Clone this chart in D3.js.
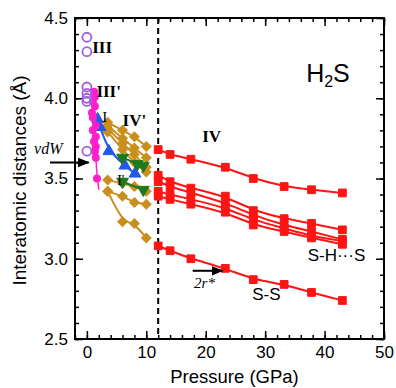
<!DOCTYPE html>
<html>
<head>
<meta charset="utf-8">
<script src="https://cdn.jsdelivr.net/npm/d3@7"></script>
<style>
  body { margin: 0; background: #fff; }
  text { font-family: "Liberation Sans", Arial, sans-serif; }
  .serif { font-family: "Liberation Serif", "Times New Roman", serif; }
</style>
</head>
<body>
<div id="chart"></div>
<script>
// phase IV (red squares), pressures in GPa
const pressIV = [12, 14, 17.5, 23.3, 28, 33.2, 37.8, 43];
const ivTop = [3.68, 3.65, 3.62, 3.57, 3.50, 3.45, 3.43, 3.41];
const ivA   = [3.52, 3.48, 3.44, 3.39, 3.30, 3.25, 3.22, 3.18];
const ivB   = [3.48, 3.45, 3.41, 3.35, 3.27, 3.21, 3.17, 3.12];
const ivC   = [3.42, 3.40, 3.37, 3.32, 3.24, 3.19, 3.14, 3.11];
const ivD   = [3.39, 3.37, 3.34, 3.29, 3.21, 3.17, 3.13, 3.09];
const ivSS  = [3.08, 3.05, 3.00, 2.94, 2.87, 2.84, 2.79, 2.74];

// phase IV' (gold diamonds)
const pressIVp = [3.5, 6, 8, 10];
const gold1 = [3.85, 3.80, 3.76, 3.70];
const gold2 = [3.83, 3.75, 3.69, 3.63];
const gold3 = [3.81, 3.72, 3.65, 3.57];
const gold4 = [3.79, 3.68, 3.60, 3.54];
const gold5 = [3.49, 3.47, 3.45, 3.42];
const gold6 = [3.42, 3.39, 3.35, 3.34];
const gold7 = [3.42, 3.23, 3.22, 3.13];

// phase I (blue up-triangles)
const pressI = [1.8, 2.2, 3.7, 6.4, 8.1];
const distI  = [3.87, 3.82, 3.67, 3.58, 3.53];

// phase I' (green down-triangles)
const pressIp = [6.0, 8.5, 9.5];
const distIpUp = [3.63, 3.59, 3.58];
const pressIpLow = [6.0, 9.5];
const distIpLow = [3.48, 3.43];

// magenta dots and their fit line
const magP = [1.2, 1.35, 1.0, 1.35, 0.85, 1.0, 1.5, 1.0, 1.5, 1.2, 1.5, 1.35, 1.5, 1.7];
const magD = [4.04, 4.01, 3.98, 3.95, 3.91, 3.88, 3.83, 3.80, 3.76, 3.73, 3.70, 3.67, 3.63, 3.50];
const magFitP = [1.1, 1.3, 1.4, 1.6, 2.0];
const magFitD = [4.06, 3.90, 3.72, 3.55, 3.43];

// phase III / III' (open violet circles)
const violetP = [0, 0, 0, 0, 0, 0, 0];
const violetD = [4.38, 4.29, 4.07, 4.03, 4.00, 3.98, 3.67];

const W = 396, H = 388;
const margin = {top: 18, right: 12, bottom: 49, left: 75};
const width = W - margin.left - margin.right;
const height = H - margin.top - margin.bottom;

const svg = d3.select("#chart").append("svg")
  .attr("width", W).attr("height", H)
  .append("g")
  .attr("transform", `translate(${margin.left},${margin.top})`);

const x = d3.scaleLinear().domain([-2, 50]).range([0, width]);
const y = d3.scaleLinear().domain([2.5, 4.5]).range([height, 0]);

const zip = (a, b) => a.map((v, i) => [v, b[i]]);

// axes: major + minor ticks, all pointing inward
function axes(g, axisFn, scale, majors, minors, withLabels, fmt) {
  g.call(axisFn(scale).tickValues(minors).tickSizeInner(-4).tickSizeOuter(0).tickFormat(""));
  const m = g.append("g").call(axisFn(scale).tickValues(majors).tickSizeInner(-8).tickSizeOuter(0)
    .tickPadding(7).tickFormat(withLabels ? fmt : ""));
  g.selectAll(".domain").remove();
  g.selectAll("line").attr("stroke", "#000").attr("stroke-width", 1.5);
  m.selectAll("text").attr("font-size", 17).attr("fill", "#000")
    .style("font-family", "'Liberation Sans', Arial, sans-serif");
}
const xMaj = [0, 10, 20, 30, 40, 50];
const xMin = d3.range(-2, 50.01, 2);
const yMaj = [2.5, 3.0, 3.5, 4.0, 4.5];
const yMin = d3.range(25, 45.1, 1).map(v => v / 10);

axes(svg.append("g").attr("transform", `translate(0,${height})`), d3.axisBottom, x, xMaj, xMin, true, d3.format("d"));
axes(svg.append("g"), d3.axisTop, x, xMaj, xMin, false);
axes(svg.append("g"), d3.axisLeft, y, yMaj, yMin, true, d3.format(".1f"));
axes(svg.append("g").attr("transform", `translate(${width},0)`), d3.axisRight, y, yMaj, yMin, false);

svg.append("rect").attr("width", width).attr("height", height)
  .attr("fill", "none").attr("stroke", "#000").attr("stroke-width", 2);

// dashed line at 12 GPa
svg.append("line")
  .attr("x1", x(12)).attr("x2", x(12)).attr("y1", 0).attr("y2", height)
  .attr("stroke", "#000").attr("stroke-width", 2).attr("stroke-dasharray", "6,4");

const line = d3.line().x(d => x(d[0])).y(d => y(d[1])).curve(d3.curveBasis);

function series(ps, ds, color, symbol, size, rotate, filled) {
  const pts = zip(ps, ds);
  svg.append("path").datum(pts).attr("d", line)
    .attr("fill", "none").attr("stroke", color).attr("stroke-width", 2);
  svg.selectAll(null).data(pts).enter().append("path")
    .attr("d", d3.symbol().type(symbol).size(size))
    .attr("transform", d => `translate(${x(d[0])},${y(d[1])}) rotate(${rotate})`)
    .attr("fill", filled ? color : "none").attr("stroke", color);
}

const red = "#ff1414", gold = "#c98f1c", blue = "#2458e8", green = "#1d7a1d",
      magenta = "#ff1ecb", violet = "#9d5fe0";

[gold1, gold2, gold3, gold4, gold5, gold6, gold7].forEach(g =>
  series(pressIVp, g, gold, d3.symbolSquare, 46, 45, true));
[ivTop, ivA, ivB, ivC, ivD, ivSS].forEach(s =>
  series(pressIV, s, red, d3.symbolSquare, 60, 0, true));
series(pressI, distI, blue, d3.symbolTriangle, 60, 0, true);
series(pressIp, distIpUp, green, d3.symbolTriangle, 60, 180, true);
series(pressIpLow, distIpLow, green, d3.symbolTriangle, 60, 180, true);

// magenta
svg.append("path").datum(zip(magFitP, magFitD)).attr("d", line)
  .attr("fill", "none").attr("stroke", magenta).attr("stroke-width", 1.5);
svg.selectAll(null).data(zip(magP, magD)).enter().append("circle")
  .attr("cx", d => x(d[0])).attr("cy", d => y(d[1])).attr("r", 4)
  .attr("fill", magenta);

// violet open circles
svg.selectAll(null).data(zip(violetP, violetD)).enter().append("circle")
  .attr("cx", d => x(d[0])).attr("cy", d => y(d[1])).attr("r", 4.5)
  .attr("fill", "none").attr("stroke", violet).attr("stroke-width", 1.8);

// arrows
const defs = svg.append("defs");
defs.append("marker").attr("id", "ah").attr("viewBox", "0 0 10 10")
  .attr("refX", 9).attr("refY", 5).attr("markerWidth", 6).attr("markerHeight", 6)
  .attr("orient", "auto").append("path").attr("d", "M0,1L10,5L0,9Z").attr("fill", "#000");
function arrow(p0, p1, d) {
  svg.append("line").attr("x1", x(p0)).attr("x2", x(p1)).attr("y1", y(d)).attr("y2", y(d))
    .attr("stroke", "#000").attr("stroke-width", 2).attr("marker-end", "url(#ah)");
}
arrow(-6.2, 0.3, 3.60);
arrow(17.8, 22.8, 2.925);

// labels
function label(txt, p, d, size, cls, weight, style) {
  return svg.append("text").attr("x", x(p)).attr("y", y(d)).text(txt)
    .attr("font-size", size).attr("class", cls || null)
    .attr("font-weight", weight || "normal").attr("font-style", style || "normal");
}
label("III", 0.9, 4.28, 17, "serif", "bold");
label("III'", 1.6, 4.01, 17, "serif", "bold");
label("I", 2.6, 3.85, 15, "serif");
label("IV'", 6.0, 3.83, 17, "serif", "bold");
label("I'", 5.1, 3.46, 14, "serif");
label("IV", 19.4, 3.73, 17, "serif", "bold");
label("vdW", -6.5, 3.655, 16, "serif", null, "italic").attr("text-anchor", "middle");
label("2r*", 19.8, 2.815, 15, "serif", null, "italic").attr("text-anchor", "middle");
label("S-S", 30.2, 2.745, 17).attr("text-anchor", "middle");
label("S-H\u00b7\u00b7\u00b7S", 42.0, 2.985, 17).attr("text-anchor", "middle");
const h2s = label("H", 36.9, 4.10, 25);
h2s.append("tspan").attr("font-size", 16).attr("dy", 5).text("2");
h2s.append("tspan").attr("dy", -5).text("S");

// axis titles
svg.append("text").attr("x", width / 2 + 5).attr("y", height + 44)
  .attr("text-anchor", "middle").attr("font-size", 18.5).text("Pressure (GPa)");
svg.append("text").attr("transform", `translate(-49,${height / 2 + 2}) rotate(-90)`)
  .attr("text-anchor", "middle").attr("font-size", 19).text("Interatomic distances (\u00c5)");
</script>
</body>
</html>
